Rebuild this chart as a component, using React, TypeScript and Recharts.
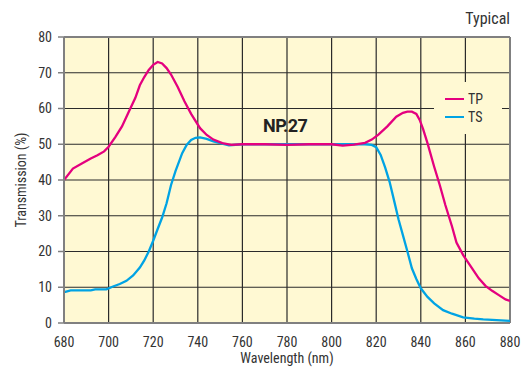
import React from "react";
import { LineChart, Line, XAxis, YAxis, CartesianGrid, ReferenceLine, Label } from "recharts";

const tpWavelength = [680, 684, 688, 692, 695, 698, 700, 703, 706, 709, 712, 714, 716, 718, 720, 722, 724, 726, 728, 731, 734, 737, 741, 744, 747, 751, 755, 760, 770, 780, 790, 800, 805, 810, 815, 818, 821, 825, 829, 832, 834, 836, 838, 839.5, 841, 843, 846, 848.5, 851, 854, 856, 859, 863, 866, 869, 872, 875, 878, 880];
const tpValue = [40, 43.2, 44.6, 46, 46.9, 48, 49.3, 52, 55, 59, 63, 66.5, 68.8, 70.8, 72.2, 73, 72.6, 71.3, 69.5, 66, 62, 58.5, 54.5, 52.6, 51.3, 50.3, 49.8, 50, 50, 49.8, 50, 50, 49.6, 49.9, 50.4, 51.3, 52.7, 55, 57.7, 58.8, 59.1, 59.1, 58.5, 56.8, 54.3, 50.3, 43.7, 38.6, 33, 27, 22.5, 19, 15.3, 12.5, 10.4, 9, 7.8, 6.6, 6.2];
const tsWavelength = [680, 681, 683, 692, 694, 699, 702, 705, 708, 711, 714, 716, 718, 720, 722, 724, 726, 728, 730, 733, 735, 737, 739, 741, 744, 747, 750, 754, 760, 770, 780, 790, 800, 810, 815, 818, 820, 822, 824, 826, 828, 830, 832, 834, 836, 838, 840, 843, 846, 850, 854, 859, 864, 868, 874, 880];
const tsValue = [8.6, 8.8, 9.1, 9.1, 9.4, 9.4, 10.2, 10.9, 11.8, 13.3, 15.5, 17.5, 20, 23, 26.3, 29.5, 33.5, 38.6, 42.5, 47.5, 49.8, 51.2, 51.8, 51.9, 51.5, 50.8, 50.3, 49.7, 50, 50, 50, 50, 50, 50, 50, 49.8, 49.2, 47, 43.5, 39.5, 34.3, 29, 24.5, 20, 15.3, 12.3, 9.7, 7.3, 5.5, 3.6, 2.6, 1.6, 1.2, 1.0, 0.8, 0.6];
const xTicks = [680, 700, 720, 740, 760, 780, 800, 820, 840, 860, 880];
const yTicks = [0, 10, 20, 30, 40, 50, 60, 70, 80];
const seriesNames = ["TP", "TS"];
const seriesColors = ["#E4007F", "#00A3E4"];

const tpData = tpWavelength.map((w, i) => ({ w, v: tpValue[i] }));
const tsData = tsWavelength.map((w, i) => ({ w, v: tsValue[i] }));

const FONT = "'Roboto Condensed', 'DejaVu Sans Condensed', 'Liberation Sans Narrow', sans-serif";
const TEXT = "#333";
const BG = "#FFF9D3";
const BORDER = "#808080";

export default function App() {
  return (
    <div style={{ position: "absolute", left: 0, top: 0, width: 528, height: 369, background: "#fff" }}>
      <LineChart width={528} height={369} margin={{ top: 37, right: 18, bottom: 0, left: 0 }}>
        <CartesianGrid fill={BG} stroke="#2b2b2b" strokeWidth={1.2} strokeOpacity={1} />
        <XAxis
          type="number"
          dataKey="w"
          domain={[680, 880]}
          ticks={xTicks}
          allowDataOverflow
          tickLine={false}
          tickMargin={8}
          axisLine={{ stroke: BORDER, strokeWidth: 2 }}
          tick={{ fill: TEXT, fontSize: 14, fontFamily: FONT }}
          height={46}
        >
          <Label value="Wavelength (nm)" position="insideBottom" offset={6} style={{ fill: TEXT, fontSize: 14, fontFamily: FONT }} />
        </XAxis>
        <YAxis
          type="number"
          domain={[0, 80]}
          ticks={yTicks}
          width={64}
          tickSize={6}
          tickMargin={6}
          tickLine={{ stroke: BORDER, strokeWidth: 1.5 }}
          axisLine={{ stroke: BORDER, strokeWidth: 2 }}
          tick={{ fill: TEXT, fontSize: 14, fontFamily: FONT }}
        >
          <Label value="Transmission (%)" angle={-90} position="insideLeft" offset={21} style={{ textAnchor: "middle", fill: TEXT, fontSize: 14, fontFamily: FONT }} />
        </YAxis>
        <ReferenceLine y={80} stroke={BORDER} strokeWidth={2} />
        <ReferenceLine x={880} stroke={BORDER} strokeWidth={2} />
        <Line data={tsData} dataKey="v" name="TS" stroke={seriesColors[1]} strokeWidth={2.3} dot={false} isAnimationActive={false} type="linear" />
        <Line data={tpData} dataKey="v" name="TP" stroke={seriesColors[0]} strokeWidth={2.3} dot={false} isAnimationActive={false} type="linear" />
        <text x={263} y={132} fontFamily="Roboto, 'Liberation Sans', sans-serif" fontWeight="bold" fontSize={18} letterSpacing={-0.5} fill="#222">NP.27</text>
        <text x={510} y={24} textAnchor="end" fontFamily={FONT} fontSize={16} fill={TEXT}>Typical</text>
      </LineChart>
      <div style={{ position: "absolute", left: 434, top: 82, width: 68, height: 52, background: BG, boxSizing: "border-box", paddingTop: 8, fontFamily: FONT, fontSize: 14, color: TEXT }}>
        {seriesNames.map((n, i) => (
          <div key={n} style={{ display: "flex", alignItems: "center", height: 18 }}>
            <div style={{ marginLeft: 11, width: 19, height: 2.5, background: seriesColors[i] }} />
            <span style={{ marginLeft: 4 }}>{n}</span>
          </div>
        ))}
      </div>
    </div>
  );
}
